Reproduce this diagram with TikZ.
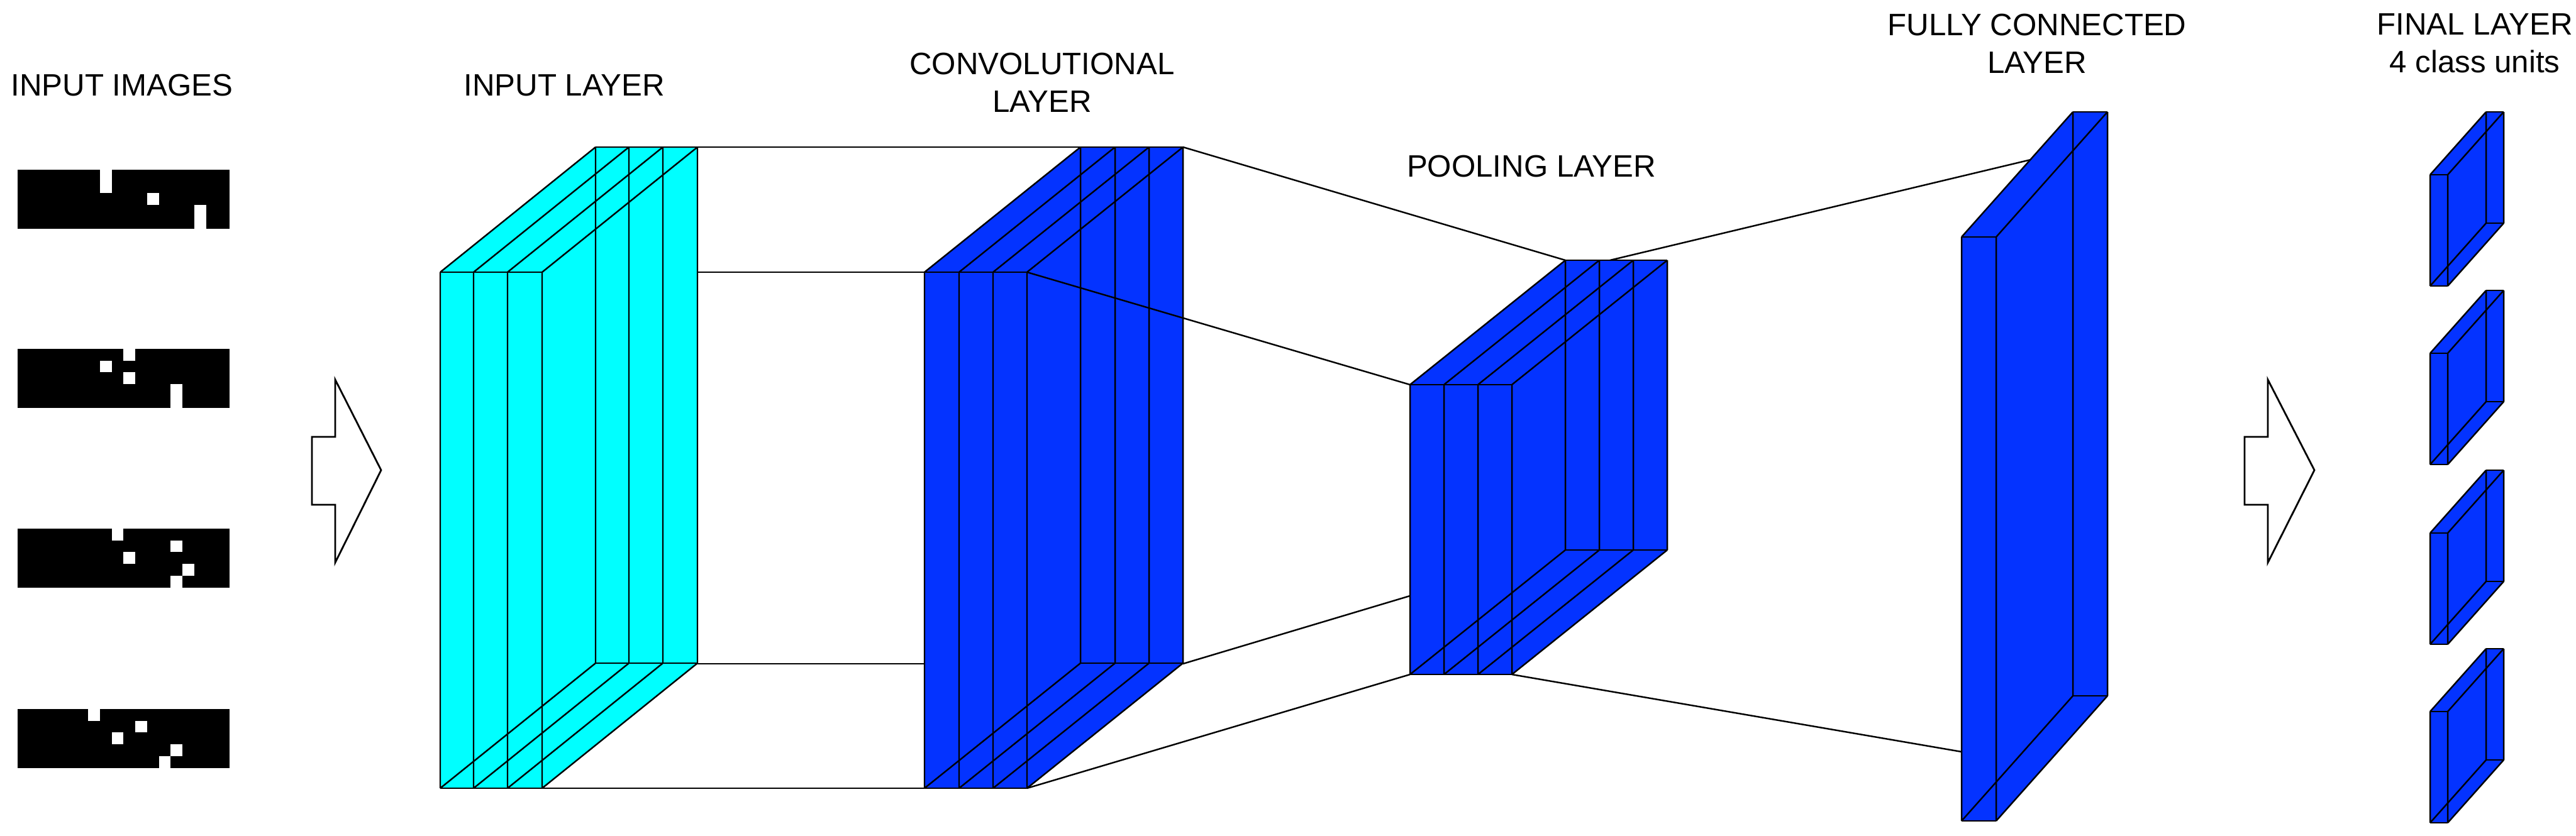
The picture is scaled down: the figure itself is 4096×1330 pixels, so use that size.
\documentclass[tikz,border=0pt]{standalone}
\usepackage{fontspec}
\setmainfont{Liberation Sans}
\definecolor{cyanfill}{HTML}{00FFFF}
\definecolor{bluefill}{HTML}{0433FF}
\newcommand\layerblock[8]{% fill, xlist, first, last, T, B, dx, dy
  \fill[#1] (#3,#5) -- ++(#7,#8) -- (#4+#7,#5+#8) -- (#4+#7,#6+#8) -- (#4,#6) -- (#3,#6) -- cycle;
  \draw[edge] (#3,#5) -- (#4,#5) (#3,#6) -- (#4,#6)
     (#3+#7,#5+#8) -- (#4+#7,#5+#8) (#3+#7,#6+#8) -- (#4+#7,#6+#8);
  \foreach \xx in {#2} {
    \draw[edge] (\xx,#5) -- (\xx,#6) (\xx+#7,#5+#8) -- (\xx+#7,#6+#8)
      (\xx,#5) -- ++(#7,#8) (\xx,#6) -- ++(#7,#8);
  }}
\newcommand\inimage[2]{% y0, list of col/row white cells
  \fill[black] (28,#1) rectangle (365,#1+93.5);
  \foreach \cc/\rr in {#2} {
    \fill[white] (28+18.72*\cc,#1+18.7*\rr) rectangle ++(18.72,18.7);
  }}
\begin{document}
\begin{tikzpicture}[x=0.01cm,y=-0.01cm,
  edge/.style={draw=black,line width=0.7pt},
  conn/.style={draw=black,line width=0.7pt},
  lbl/.style={font=\fontsize{14}{17}\selectfont,align=center,inner sep=0pt},
  bigarrow/.style={draw=black,line width=0.8pt,fill=white,line join=miter}]
\useasboundingbox (0,0) rectangle (4096,1330);
% labels
\node[lbl] (tImg) at (194,136) {INPUT IMAGES};
\node[lbl] (tIn) at (897,136) {INPUT LAYER};
\node[lbl] (tConv) at (1657,131) {CONVOLUTIONAL\\LAYER};
\node[lbl] (tPool) at (2435,265) {POOLING LAYER};
\node[lbl] (tFC) at (3239,69) {FULLY CONNECTED\\LAYER};
\node[lbl] (tFin) at (3935,69) {FINAL LAYER\\4 class units};
% input images
\inimage{270}{7/0,7/1,11/2,15/3,15/4}
\inimage{555}{9/0,7/1,9/2,13/3,13/4}
\inimage{841}{8/0,13/1,9/2,14/3,13/4}
\inimage{1128}{6/0,10/1,8/2,13/3,12/4}
% arrows
\draw[bigarrow] (496,695) -- (533,695) -- (533,604) -- (606,748) -- (533,895) -- (533,803) -- (496,803) -- cycle;
\draw[bigarrow] (3569,695) -- (3606,695) -- (3606,604) -- (3680,748) -- (3606,895) -- (3606,803) -- (3569,803) -- cycle;
% coordinates
\coordinate (inBT) at (1109,234); \coordinate (inFT) at (862,433);
\coordinate (inBB) at (1109,1056); \coordinate (inFB) at (862,1254);
\coordinate (cvBT) at (1718,234); \coordinate (cvFT) at (1470,433);
\coordinate (cvBB) at (1718,1056); \coordinate (cvFB) at (1470,1254);
\coordinate (cvBTR) at (1881,234); \coordinate (cvFTR) at (1633,433);
\coordinate (cvBBR) at (1881,1056); \coordinate (cvFBR) at (1633,1254);
\coordinate (plBT) at (2489,414); \coordinate (plFT) at (2242,612);
\coordinate (plBB) at (2489,874); \coordinate (plFB) at (2242,1073);
\coordinate (plTop) at (2560,414); \coordinate (plFBR) at (2404,1073);
\coordinate (fcT) at (3296,238); \coordinate (fcB) at (3119,1196);
% input -> conv connectors
\draw[conn] (inBT) -- (cvBT) (inFT) -- (cvFT) (inBB) -- (cvBB) (inFB) -- (cvFB);
\layerblock{cyanfill}{700,753,807,862}{700}{862}{433}{1254}{247}{-199}
\layerblock{bluefill}{1470,1525,1579,1633}{1470}{1633}{433}{1254}{248}{-199}
% conv -> pool
\draw[conn] (cvBTR) -- (plBT) (cvFTR) -- (plFT) (cvBBR) -- (plBB) (cvFBR) -- (plFB);
\layerblock{bluefill}{2242,2296,2350,2404}{2242}{2404}{612}{1073}{247}{-198}
% pool -> fc
\draw[conn] (plTop) -- (fcT) (plFBR) -- (fcB);
\layerblock{bluefill}{3119,3174}{3119}{3174}{377}{1306}{177}{-199}
% final units
\foreach \yy in {278,562,848,1132} {
  \layerblock{bluefill}{3864,3892}{3864}{3892}{\yy}{\yy+177}{89}{-100}
}
\end{tikzpicture}
\end{document}
